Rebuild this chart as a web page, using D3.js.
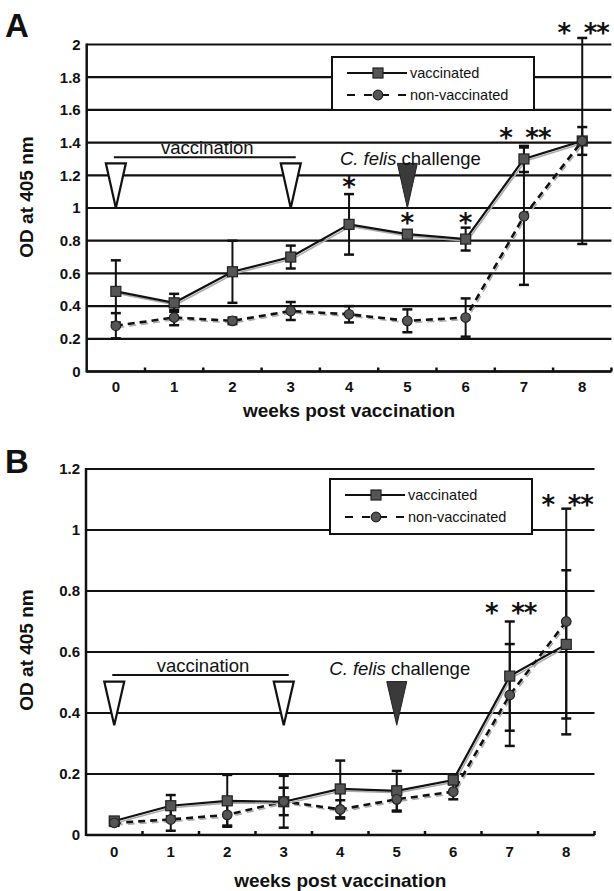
<!DOCTYPE html>
<html lang="en">
<head>
<meta charset="UTF-8">
<title>OD at 405 nm - weeks post vaccination</title>
<style>
  html, body { margin: 0; padding: 0; background: #fff; }
  svg { display: block; font-family: 'Liberation Sans', Arial, sans-serif; }
  .grid line { stroke: #111; stroke-width: 2.2; }
  .axis-line { stroke: #111; stroke-width: 2.5; }
  .tick-label { font-size: 15px; font-weight: bold; fill: #111; }
  .axis-title { font-size: 19px; font-weight: bold; fill: #111; }
  .panel-letter { font-size: 33px; font-weight: bold; fill: #111; }
  .note { font-size: 18.5px; fill: #111; }
  .legend-text { font-size: 14.5px; fill: #111; }
  .star { font-family: 'DejaVu Sans', sans-serif; font-size: 26px; font-weight: bold; fill: #111; }
</style>
</head>
<body>
<div id="vis"></div>
<script src="https://d3js.org/d3.v7.min.js"></script>
<script>

// weeks on the x axis
var weeks = [0, 1, 2, 3, 4, 5, 6, 7, 8];
var seriesNames = ["vaccinated", "non-vaccinated"];

// panel A: OD values and error (+/-)
var vaccA      = [0.49, 0.42, 0.61, 0.70, 0.90, 0.84, 0.81, 1.30, 1.41];
var vaccErrA   = [0.19, 0.055, 0.19, 0.07, 0.185, 0.02, 0.07, 0.08, 0.085];
var nonvacA    = [0.28, 0.33, 0.31, 0.37, 0.35, 0.31, 0.33, 0.95, 1.41];
var nonvacErrA = [0.077, 0.047, 0.02, 0.055, 0.05, 0.07, 0.117, 0.42, 0.63];

// panel B
var vaccB      = [0.046, 0.096, 0.112, 0.109, 0.151, 0.145, 0.18, 0.521, 0.625];
var vaccErrB   = [0.01, 0.035, 0.085, 0.085, 0.093, 0.065, 0.01, 0.179, 0.243];
var nonvacB    = [0.04, 0.051, 0.066, 0.11, 0.084, 0.117, 0.142, 0.459, 0.70];
var nonvacErrB = [0.01, 0.037, 0.035, 0.045, 0.03, 0.04, 0.025, 0.167, 0.37];

// significance marks (week, height in OD units, label)
var starsA = [[4, 1.16, "*"], [5, 0.937, "*"], [6, 0.937, "*"], [7, 1.46, "* **"], [8, 2.105, "* **"]];
var starsB = [[7, 0.744, "* **"], [8, 1.098, "* **"]];

// vaccination / challenge annotations, heights in OD units
var vaccWeeks = [0, 3];
var challengeWeek = 5;
var notesA = { text: 1.33, line: 1.31, triTop: 1.273, triTip: 1.0, challenge: 1.26 };
var notesB = { text: 0.535, line: 0.525, triTop: 0.503, triTip: 0.36, challenge: 0.525 };

var width = 614, height = 891;

var svg = d3.select("#vis").append("svg")
  .attr("width", width)
  .attr("height", height);

svg.append("rect").attr("width", width).attr("height", height).attr("fill", "#fff");

var panels = [
  { letter: "A", letterY: 37, top: 44.5, bottom: 371.5, left: 86.7, right: 611.4, yMax: 2,
    vacc: vaccA, vaccErr: vaccErrA, non: nonvacA, nonErr: nonvacErrA, stars: starsA, notes: notesA,
    legend: { x: 332, y: 57, w: 202, h: 53 }, tickDy: 21, titleDy: 45, yTitleY: 197 },
  { letter: "B", letterY: 473, top: 469, bottom: 835, left: 86, right: 594.5, yMax: 1.2,
    vacc: vaccB, vaccErr: vaccErrB, non: nonvacB, nonErr: nonvacErrB, stars: starsB, notes: notesB,
    legend: { x: 330, y: 479, w: 202, h: 55 }, tickDy: 22, titleDy: 52, yTitleY: 650 }
];

panels.forEach(drawPanel);

function drawPanel(p) {
  var g = svg.append("g");

  var x = d3.scaleBand().domain(weeks).range([p.left, p.right]);
  var cx = function(w) { return x(w) + x.bandwidth() / 2; };
  var y = d3.scaleLinear().domain([0, p.yMax]).range([p.bottom, p.top]);
  var yTicks = d3.range(0, p.yMax + 0.001, 0.2);

  // panel letter
  g.append("text").attr("class", "panel-letter")
    .attr("x", 5).attr("y", p.letterY).text(p.letter);

  // horizontal gridlines
  g.append("g").attr("class", "grid")
    .selectAll("line").data(yTicks).enter().append("line")
    .attr("x1", p.left).attr("x2", p.right)
    .attr("y1", function(d) { return y(d); })
    .attr("y2", function(d) { return y(d); });

  // y axis
  var yAxis = d3.axisLeft(y).tickValues(yTicks).tickSize(0).tickPadding(6)
    .tickFormat(function(d) { return String(+d.toFixed(1)); });
  var ya = g.append("g").attr("transform", "translate(" + p.left + ",0)").call(yAxis);
  ya.select(".domain").remove();
  ya.selectAll("text").attr("class", "tick-label").attr("font-family", null).attr("font-size", null);

  // x axis (category ticks between weeks, pointing inward)
  var xAxis = d3.axisBottom(x).tickSize(0).tickPadding(p.tickDy - 11);
  var xa = g.append("g").attr("transform", "translate(0," + p.bottom + ")").call(xAxis);
  xa.select(".domain").remove();
  xa.selectAll("text").attr("class", "tick-label").attr("font-family", null).attr("font-size", null);

  g.selectAll(".xtick").data(weeks.slice(1).concat(["end"])).enter().append("line")
    .attr("class", "axis-line")
    .attr("x1", function(d) { return d === "end" ? p.right : x(d); })
    .attr("x2", function(d) { return d === "end" ? p.right : x(d); })
    .attr("y1", p.bottom).attr("y2", p.bottom - 4);

  g.append("line").attr("class", "axis-line")
    .attr("x1", p.left).attr("x2", p.right).attr("y1", p.bottom).attr("y2", p.bottom);
  g.append("line").attr("class", "axis-line")
    .attr("x1", p.left).attr("x2", p.left).attr("y1", p.top - 1).attr("y2", p.bottom + 1);

  // axis titles
  g.append("text").attr("class", "axis-title")
    .attr("x", (p.left + p.right) / 2).attr("y", p.bottom + p.titleDy)
    .attr("text-anchor", "middle").text("weeks post vaccination");
  g.append("text").attr("class", "axis-title")
    .attr("transform", "translate(33," + p.yTitleY + ") rotate(-90)")
    .attr("text-anchor", "middle").text("OD at 405 nm");

  // vaccination annotation
  var n = p.notes;
  g.append("line")
    .attr("x1", cx(vaccWeeks[0]) - 2).attr("x2", cx(vaccWeeks[1]) + 5)
    .attr("y1", y(n.line)).attr("y2", y(n.line))
    .attr("stroke", "#111").attr("stroke-width", 2);
  g.append("text").attr("class", "note")
    .attr("x", (cx(vaccWeeks[0]) + cx(vaccWeeks[1])) / 2 + 4).attr("y", y(n.text))
    .attr("text-anchor", "middle").text("vaccination");

  var tri = function(w) {
    return "M" + (cx(w) - 10) + "," + y(n.triTop) + "L" + (cx(w) + 10) + "," + y(n.triTop) +
      "L" + cx(w) + "," + y(n.triTip) + "Z";
  };
  g.selectAll(".vtri").data(vaccWeeks).enter().append("path")
    .attr("d", tri).attr("fill", "#fff").attr("stroke", "#111").attr("stroke-width", 2.2)
    .attr("stroke-linejoin", "miter");
  g.append("path").attr("d", tri(challengeWeek))
    .attr("fill", "#3a3a3a").attr("stroke", "#222").attr("stroke-width", 1);

  var ch = g.append("text").attr("class", "note")
    .attr("x", cx(challengeWeek) + 3).attr("y", y(n.challenge)).attr("text-anchor", "middle");
  ch.append("tspan").attr("font-style", "italic").text("C. felis");
  ch.append("tspan").text(" challenge");

  // series
  var series = [
    { name: seriesNames[0], vals: p.vacc, err: p.vaccErr, dash: null, shape: "square" },
    { name: seriesNames[1], vals: p.non, err: p.nonErr, dash: "7,5", shape: "circle" }
  ];

  var line = d3.line()
    .x(function(d, i) { return cx(weeks[i]); })
    .y(function(d) { return y(d); });

  series.slice().reverse().forEach(function(s) {
    // grey shadow trace
    g.append("path").datum(s.vals)
      .attr("d", line).attr("fill", "none")
      .attr("stroke", "#aaa").attr("stroke-width", 1.6)
      .attr("stroke-dasharray", s.dash)
      .attr("transform", "translate(1.5,2)");
    g.append("path").datum(s.vals)
      .attr("d", line).attr("fill", "none")
      .attr("stroke", "#111").attr("stroke-width", s.dash ? 2.6 : 2.2)
      .attr("stroke-dasharray", s.dash);
  });

  series.forEach(function(s) {
    var eb = g.append("g");
    s.vals.forEach(function(v, i) {
      var xx = cx(weeks[i]), lo = y(v - s.err[i]), hi = y(v + s.err[i]);
      eb.append("line").attr("x1", xx).attr("x2", xx).attr("y1", lo).attr("y2", hi)
        .attr("stroke", "#111").attr("stroke-width", 2);
      [lo, hi].forEach(function(yy) {
        eb.append("line").attr("x1", xx - 5).attr("x2", xx + 5).attr("y1", yy).attr("y2", yy)
          .attr("stroke", "#111").attr("stroke-width", 2.5);
      });
    });
  });

  series.forEach(function(s) {
    var mk = g.append("g");
    s.vals.forEach(function(v, i) {
      drawMarker(mk, s.shape, cx(weeks[i]), y(v));
    });
  });

  // stars
  p.stars.forEach(function(st) {
    var xx = cx(st[0]), yy = y(st[1]) + 26 * 0.545;
    if (st[2] === "*") {
      g.append("text").attr("class", "star").attr("x", xx).attr("y", yy)
        .attr("text-anchor", "middle").text("*");
    } else {
      g.append("text").attr("class", "star").attr("x", xx - 18).attr("y", yy)
        .attr("text-anchor", "middle").text("*");
      g.append("text").attr("class", "star").attr("x", xx + 14).attr("y", yy)
        .attr("text-anchor", "middle").attr("letter-spacing", "-1").text("**");
    }
  });

  // legend
  var L = p.legend;
  var lg = g.append("g").attr("transform", "translate(" + L.x + "," + L.y + ")");
  lg.append("rect").attr("width", L.w).attr("height", L.h)
    .attr("fill", "#fff").attr("stroke", "#111").attr("stroke-width", 2);
  series.forEach(function(s, i) {
    var ly = i === 0 ? 16 : 38;
    lg.append("line").attr("x1", 15).attr("x2", 75).attr("y1", ly).attr("y2", ly)
      .attr("stroke", "#111").attr("stroke-width", 2)
      .attr("stroke-dasharray", s.dash ? "8,9" : null);
    drawMarker(lg, s.shape, 46, ly);
    lg.append("text").attr("class", "legend-text")
      .attr("x", 78).attr("y", ly + 5).text(s.name);
  });
}

function drawMarker(sel, shape, x, y) {
  if (shape === "square") {
    sel.append("rect").attr("x", x - 5).attr("y", y - 5)
      .attr("width", 10).attr("height", 10)
      .attr("fill", "#555").attr("stroke", "#222").attr("stroke-width", 1.2);
  } else {
    sel.append("circle").attr("cx", x).attr("cy", y).attr("r", 4.8)
      .attr("fill", "#555").attr("stroke", "#222").attr("stroke-width", 1.2);
  }
}

</script>
</body>
</html>
